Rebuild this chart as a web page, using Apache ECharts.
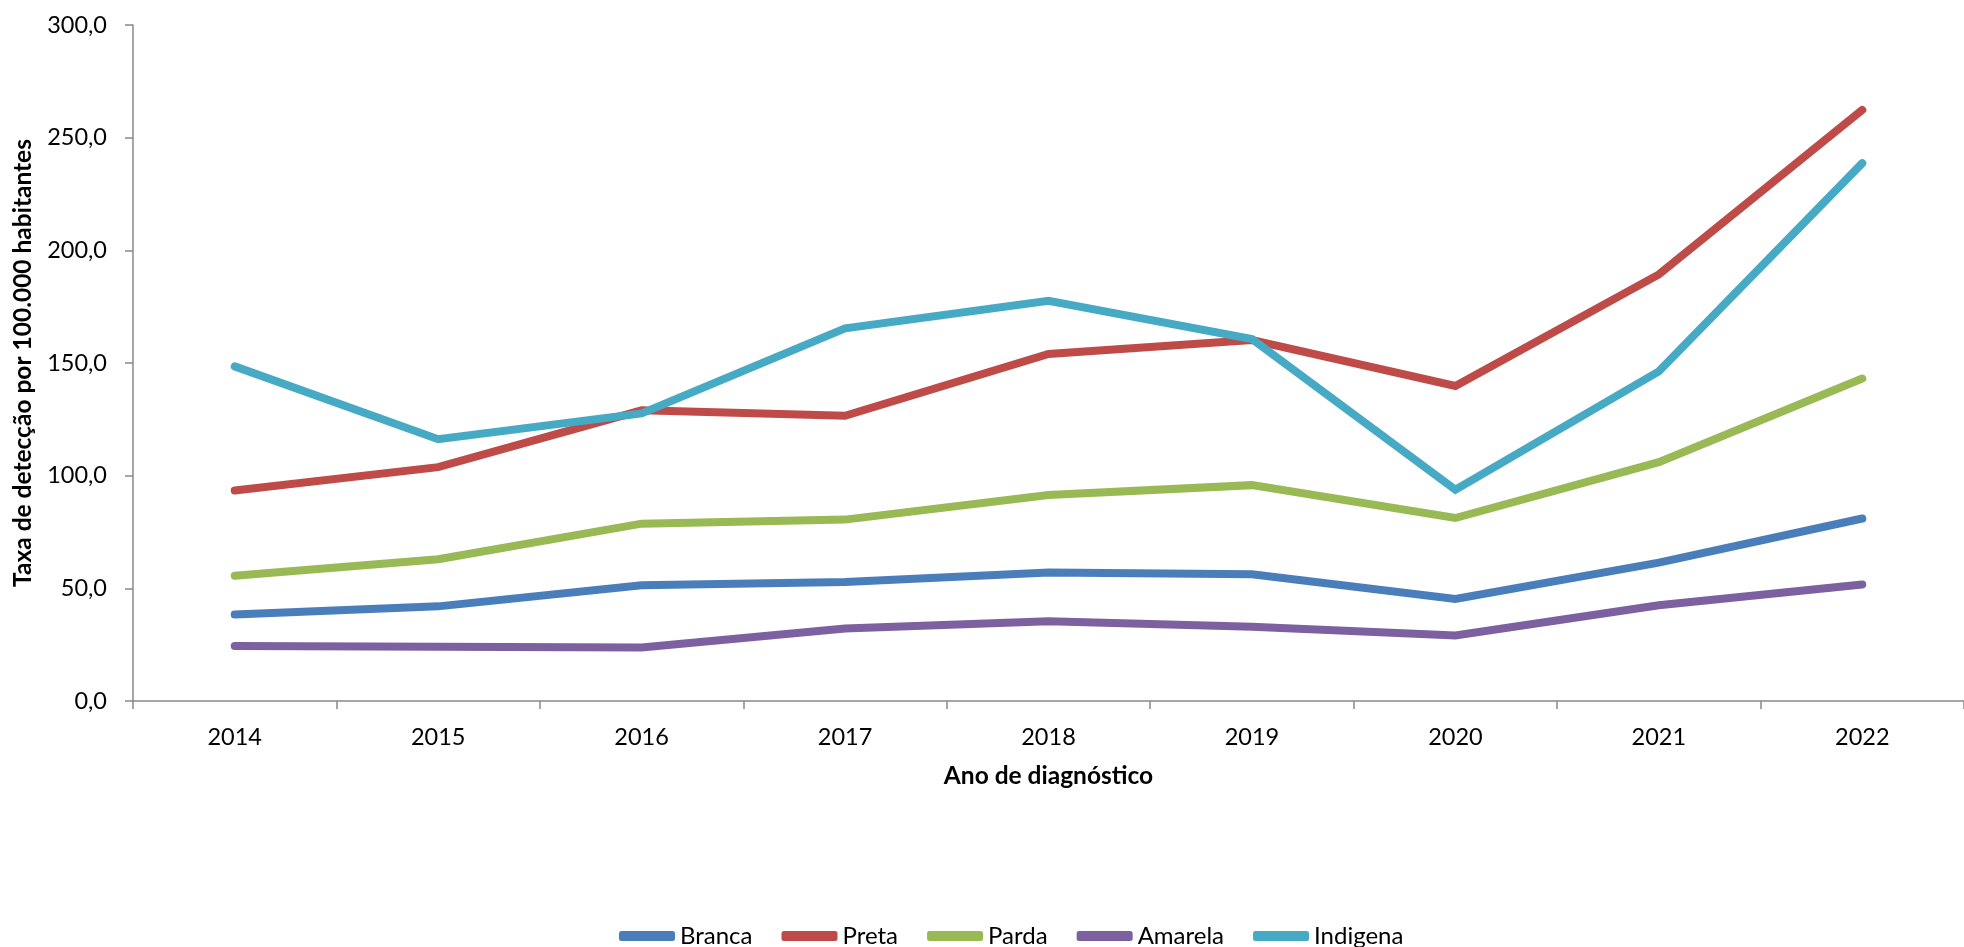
<!DOCTYPE html>
<html>
<head>
<meta charset="utf-8">
<script src="https://cdn.jsdelivr.net/npm/echarts@6/dist/echarts.min.js"></script>
<style>
html,body{margin:0;padding:0;background:#fff;}
#chart{width:1964px;height:947px;}
</style>
</head>
<body>
<div id="chart"></div>
<script>
var categories = ['2014','2015','2016','2017','2018','2019','2020','2021','2022'];
var branca   = [38.4, 42.0, 51.4, 52.8, 57.0, 56.2, 45.3, 61.4, 81.0];
var preta    = [93.4, 103.8, 129.0, 126.6, 154.0, 160.2, 139.8, 189.3, 262.3];
var parda    = [55.6, 62.9, 78.7, 80.5, 91.4, 95.8, 81.2, 106.0, 143.1];
var amarela  = [24.4, 24.1, 23.7, 32.2, 35.4, 32.9, 29.1, 42.5, 51.7];
var indigena = [148.5, 116.2, 127.6, 165.4, 177.6, 160.6, 93.8, 146.3, 238.7];
var seriesNames = ['Branca','Preta','Parda','Amarela','Indigena'];
var yTicks = [0, 50, 100, 150, 200, 250, 300];

var colors = ['#4A7EBB','#BE4B48','#98B954','#7D60A0','#46AAC5'];
var dataSets = [branca, preta, parda, amarela, indigena];
var font = 'Lato, "Open Sans", sans-serif';

var chart = echarts.init(document.getElementById('chart'), null, {renderer:'canvas'});
var series = seriesNames.map(function(n, i){
  return {
    name: n, type: 'line', data: dataSets[i], symbol: 'none',
    lineStyle: {width: 8, color: colors[i], cap: 'round', join: 'miter'},
    itemStyle: {color: colors[i]},
    animation: false
  };
});
chart.setOption({
  animation: false,
  backgroundColor: '#fff',
  color: colors,
  grid: {left: 133, top: 25, width: 1836, height: 676, containLabel: false},
  xAxis: {
    type: 'category', data: categories, boundaryGap: true,
    name: 'Ano de diagnóstico', nameLocation: 'middle', nameGap: 63,
    nameTextStyle: {fontFamily: font, fontSize: 24.5, fontWeight: 'bold', color: '#000'},
    axisLine: {lineStyle: {color: '#898989', width: 1.5}},
    axisTick: {show: true, length: 8, alignWithLabel: false, lineStyle: {color: '#898989', width: 1.5}},
    axisLabel: {fontFamily: font, fontSize: 23.5, color: '#000', margin: 24}
  },
  yAxis: {
    type: 'value', min: yTicks[0], max: yTicks[yTicks.length-1], interval: 50,
    name: 'Taxa de detecção por 100.000 habitantes', nameLocation: 'middle', nameGap: 97,
    nameTextStyle: {fontFamily: font, fontSize: 24.5, fontWeight: 'bold', color: '#000'},
    axisLine: {show: true, lineStyle: {color: '#898989', width: 1.5}},
    axisTick: {show: true, length: 8, lineStyle: {color: '#898989', width: 1.5}},
    splitLine: {show: false},
    axisLabel: {fontFamily: font, fontSize: 23.5, color: '#000', margin: 26,
      formatter: function(v){ return v.toFixed(1).replace('.', ','); }}
  },
  legend: {
    data: seriesNames, left: 614, top: 919,
    icon: 'roundRect', itemWidth: 56, itemHeight: 10, itemGap: 29,
    textStyle: {fontFamily: font, fontSize: 24, color: '#000'}
  },
  series: series
});
</script>
</body>
</html>
